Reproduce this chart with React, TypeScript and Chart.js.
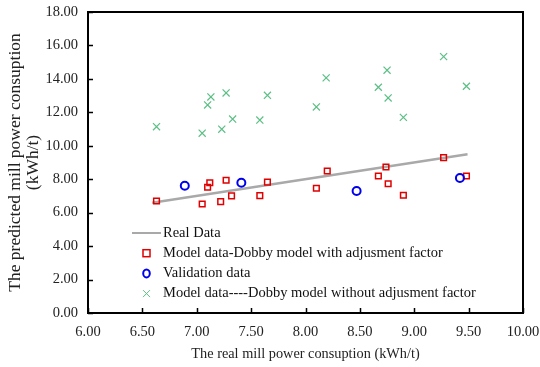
import React, { useEffect, useRef } from "react";
import { Chart, registerables } from "chart.js";

Chart.register(...registerables);

const realX = [6.59, 9.49];
const realY = [6.59, 9.49];

const modelAdjX = [6.63, 7.05, 7.10, 7.12, 7.22, 7.27, 7.32, 7.58, 7.65, 8.10, 8.20, 8.67, 8.74, 8.76, 8.90, 9.27, 9.48];
const modelAdjY = [6.70, 6.52, 7.52, 7.79, 6.66, 7.94, 7.00, 7.02, 7.83, 7.46, 8.49, 8.19, 8.73, 7.73, 7.04, 9.29, 8.19];

const validX = [6.89, 7.41, 8.47, 9.42];
const validY = [7.61, 7.79, 7.30, 8.07];

const modelNoAdjX = [6.63, 7.05, 7.10, 7.13, 7.23, 7.27, 7.33, 7.58, 7.65, 8.10, 8.19, 8.67, 8.75, 8.76, 8.90, 9.27, 9.48];
const modelNoAdjY = [11.14, 10.75, 12.44, 12.92, 10.99, 13.16, 11.60, 11.54, 13.02, 12.32, 14.06, 13.50, 14.52, 12.86, 11.70, 15.33, 13.56];

const legendLabels = [
  "Real Data",
  "Model data-Dobby model with adjusment factor",
  "Validation data",
  "Model data----Dobby model without adjusment factor",
];

const xTicks = [6, 6.5, 7, 7.5, 8, 8.5, 9, 9.5, 10];
const yTicks = [0, 2, 4, 6, 8, 10, 12, 14, 16, 18];

const SERIF = "'Liberation Serif', 'Times New Roman', serif";
const GRAY = "#a9a9a9";
const RED = "#e00000";
const BLUE = "#0000ee";
const GREEN = "#5cbf85";

const pts = (xs: number[], ys: number[]) => xs.map((x, i) => ({ x, y: ys[i] }));

const framePlugin = {
  id: "frame",
  afterDraw(chart: any) {
    const { ctx, chartArea: a, scales } = chart;
    ctx.save();
    ctx.strokeStyle = "#000";
    ctx.lineWidth = 1.5;
    ctx.beginPath();
    xTicks.forEach((v) => {
      const px = Math.round(scales.x.getPixelForValue(v)) + 0.5;
      ctx.moveTo(px, a.bottom);
      ctx.lineTo(px, a.bottom - 5);
    });
    yTicks.forEach((v) => {
      const py = Math.round(scales.y.getPixelForValue(v)) + 0.5;
      ctx.moveTo(a.left, py);
      ctx.lineTo(a.left + 5, py);
    });
    ctx.stroke();
    ctx.lineWidth = 2;
    ctx.strokeRect(a.left, a.top, a.right - a.left, a.bottom - a.top);

    const lx = a.left + 44;
    const ly0 = a.top + 221;
    const step = 20.2;
    const tx = a.left + 75;
    ctx.font = `14.5px ${SERIF}`;
    ctx.textBaseline = "middle";
    ctx.textAlign = "left";
    legendLabels.forEach((t, i) => {
      const y = ly0 + i * step;
      const cx = lx + 14.5;
      if (i === 0) {
        ctx.strokeStyle = GRAY;
        ctx.lineWidth = 2;
        ctx.beginPath();
        ctx.moveTo(lx, y);
        ctx.lineTo(lx + 29, y);
        ctx.stroke();
      } else if (i === 1) {
        ctx.strokeStyle = RED;
        ctx.lineWidth = 1.5;
        ctx.strokeRect(cx - 3.5, y - 3.5, 7, 7);
      } else if (i === 2) {
        ctx.strokeStyle = BLUE;
        ctx.lineWidth = 2;
        ctx.beginPath();
        ctx.ellipse(cx, y, 3.3, 4, 0, 0, Math.PI * 2);
        ctx.stroke();
      } else {
        ctx.strokeStyle = GREEN;
        ctx.lineWidth = 1;
        ctx.beginPath();
        ctx.moveTo(cx - 3.5, y - 3.5);
        ctx.lineTo(cx + 3.5, y + 3.5);
        ctx.moveTo(cx + 3.5, y - 3.5);
        ctx.lineTo(cx - 3.5, y + 3.5);
        ctx.stroke();
      }
      ctx.fillStyle = "#111";
      ctx.fillText(t, tx, y);
    });
    ctx.restore();
  },
};

export default function App() {
  const ref = useRef<HTMLCanvasElement>(null);
  useEffect(() => {
    if (!ref.current) return;
    const chart = new Chart(ref.current, {
      type: "scatter",
      data: {
        datasets: [
          {
            type: "line",
            label: legendLabels[0],
            data: pts(realX, realY),
            borderColor: GRAY,
            borderWidth: 2.5,
            pointRadius: 0,
            fill: false,
            order: 4,
          } as any,
          {
            label: legendLabels[1],
            data: pts(modelAdjX, modelAdjY),
            pointStyle: "rect",
            pointRadius: 4,
            borderColor: RED,
            backgroundColor: "rgba(0,0,0,0)",
            pointBorderWidth: 1.5,
            order: 2,
          },
          {
            label: legendLabels[2],
            data: pts(validX, validY),
            pointStyle: "circle",
            pointRadius: 4,
            borderColor: BLUE,
            backgroundColor: "rgba(0,0,0,0)",
            pointBorderWidth: 2,
            order: 1,
          },
          {
            label: legendLabels[3],
            data: pts(modelNoAdjX, modelNoAdjY),
            pointStyle: "crossRot",
            pointRadius: 5,
            borderColor: GREEN,
            backgroundColor: GREEN,
            pointBorderWidth: 1.2,
            order: 3,
          },
        ],
      },
      options: {
        responsive: false,
        animation: false,
        layout: { padding: { top: 12, right: 17, left: 0, bottom: 0 } },
        plugins: { legend: { display: false }, tooltip: { enabled: false } },
        scales: {
          x: {
            type: "linear",
            min: 6,
            max: 10,
            afterBuildTicks: (s: any) => {
              s.ticks = xTicks.map((v) => ({ value: v }));
            },
            afterFit: (s: any) => {
              s.height = 54;
              s.paddingLeft = 0;
              s.paddingRight = 0;
            },
            grid: { display: false, drawTicks: false },
            border: { display: false },
            ticks: {
              padding: 10,
              maxRotation: 0,
              color: "#222",
              font: { family: SERIF, size: 14.5 },
              callback: (v: any) => Number(v).toFixed(2),
            },
            title: {
              display: true,
              text: "The real mill power consuption (kWh/t)",
              color: "#222",
              font: { family: SERIF, size: 14.3 },
              padding: { top: 0, bottom: 4 },
            },
          },
          y: {
            type: "linear",
            min: 0,
            max: 18,
            afterBuildTicks: (s: any) => {
              s.ticks = yTicks.map((v) => ({ value: v }));
            },
            afterFit: (s: any) => {
              s.width = 88;
              s.paddingTop = 0;
              s.paddingBottom = 0;
            },
            grid: { display: false, drawTicks: false },
            border: { display: false },
            ticks: {
              padding: 10,
              color: "#222",
              font: { family: SERIF, size: 14.5 },
              callback: (v: any) => Number(v).toFixed(2),
            },
            title: {
              display: true,
              text: ["The predicted mill power consuption", "(kWh/t)"],
              color: "#222",
              font: { family: SERIF, size: 17.5, lineHeight: 1.05 },
              padding: { top: 6, bottom: 0 },
            },
          },
        },
      },
      plugins: [framePlugin],
    });
    return () => chart.destroy();
  }, []);
  return (
    <div style={{ position: "absolute", left: 0, top: 0, width: 540, height: 367, background: "#fff" }}>
      <canvas ref={ref} width={540} height={367} />
    </div>
  );
}
